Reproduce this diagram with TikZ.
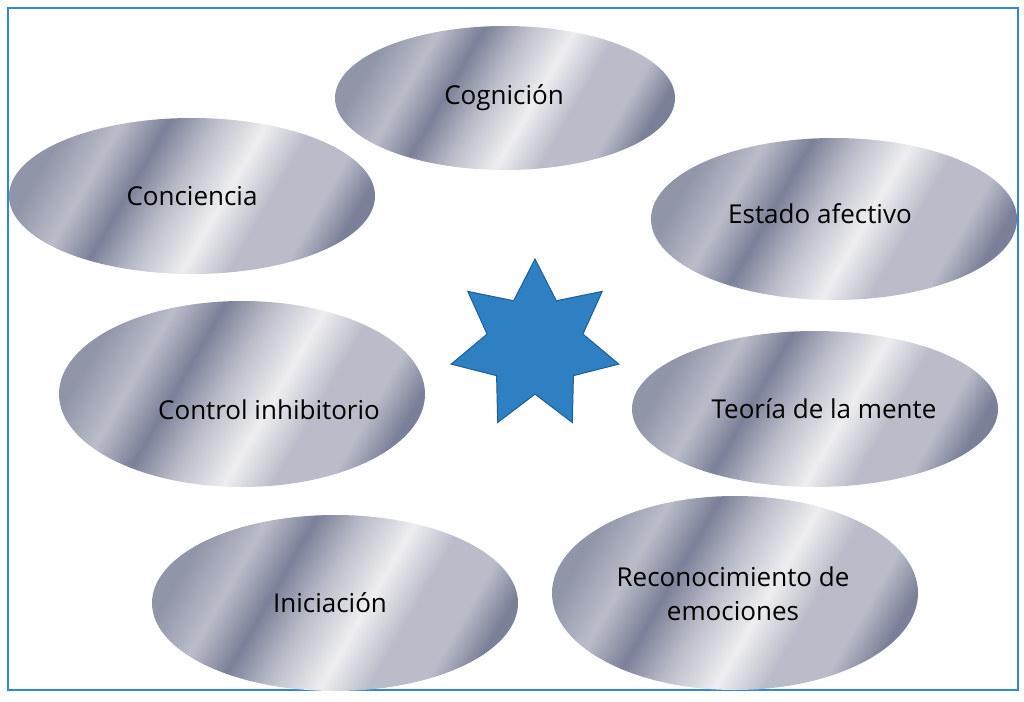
\documentclass[tikz,border=0pt]{standalone}
\usepackage{fontspec}
\setmainfont{Open Sans}
\usetikzlibrary{shapes.geometric}
\definecolor{mdark}{HTML}{7A8098}
\definecolor{mmd}{HTML}{9095A8}
\definecolor{mmid}{HTML}{BABDC9}
\definecolor{mlight}{HTML}{EEEEF1}
\definecolor{frameblue}{HTML}{2E8AD8}
\definecolor{starblue}{HTML}{2E80C2}
\definecolor{stardark}{HTML}{1F5F95}
\pgfdeclarehorizontalshading{metal}{100bp}{color(0bp)=(mmd); color(25bp)=(mmd); color(33bp)=(mmid); color(40bp)=(mdark); color(47bp)=(mmid); color(55bp)=(mlight); color(62bp)=(mmid); color(70bp)=(mmid); color(76bp)=(mdark); color(100bp)=(mdark)}
\tikzset{
  oval/.style={ellipse, shading=metal, shading angle=-30, minimum width=366pt, inner sep=0pt},
  lbl/.style={font=\fontsize{26}{34}\selectfont, align=center, text=black, inner sep=0pt},
}
\begin{document}
\begin{tikzpicture}[x=1pt,y=-1pt]
\useasboundingbox (0,0) rectangle (1024,701);
\draw[frameblue, line width=1.2pt] (8,8) rectangle (1018,690);
\node[oval, minimum width=340pt, minimum height=144pt] (cog) at (505,98) {};
\node[oval, minimum height=156pt] (con) at (192,196) {};
\node[oval, minimum height=162pt] (est) at (834,219) {};
\node[oval, minimum height=186pt] (ctl) at (242,394) {};
\node[oval, minimum height=156pt] (teo) at (815,409) {};
\node[oval, minimum height=176pt] (ini) at (335,603) {};
\node[oval, minimum height=194pt] (rec) at (735,593) {};
\node[lbl] (tcog) at (504,98) {Cognición};
\node[lbl] (tcon) at (192,196) {Conciencia};
\node[lbl] (test) at (820,214) {Estado afectivo};
\node[lbl] (tctl) at (269,410) {Control inhibitorio};
\node[lbl] (tteo) at (824,409) {Teoría de la mente};
\node[lbl] (tini) at (330,603) {Iniciación};
\node[lbl] (trec) at (733,594) {Reconocimiento de\\emociones};
\node[star, star points=7, star point ratio=1.75, minimum size=172pt, fill=starblue, draw=stardark, line width=1pt, inner sep=0pt] (st) at (535,345) {};
\end{tikzpicture}
\end{document}
